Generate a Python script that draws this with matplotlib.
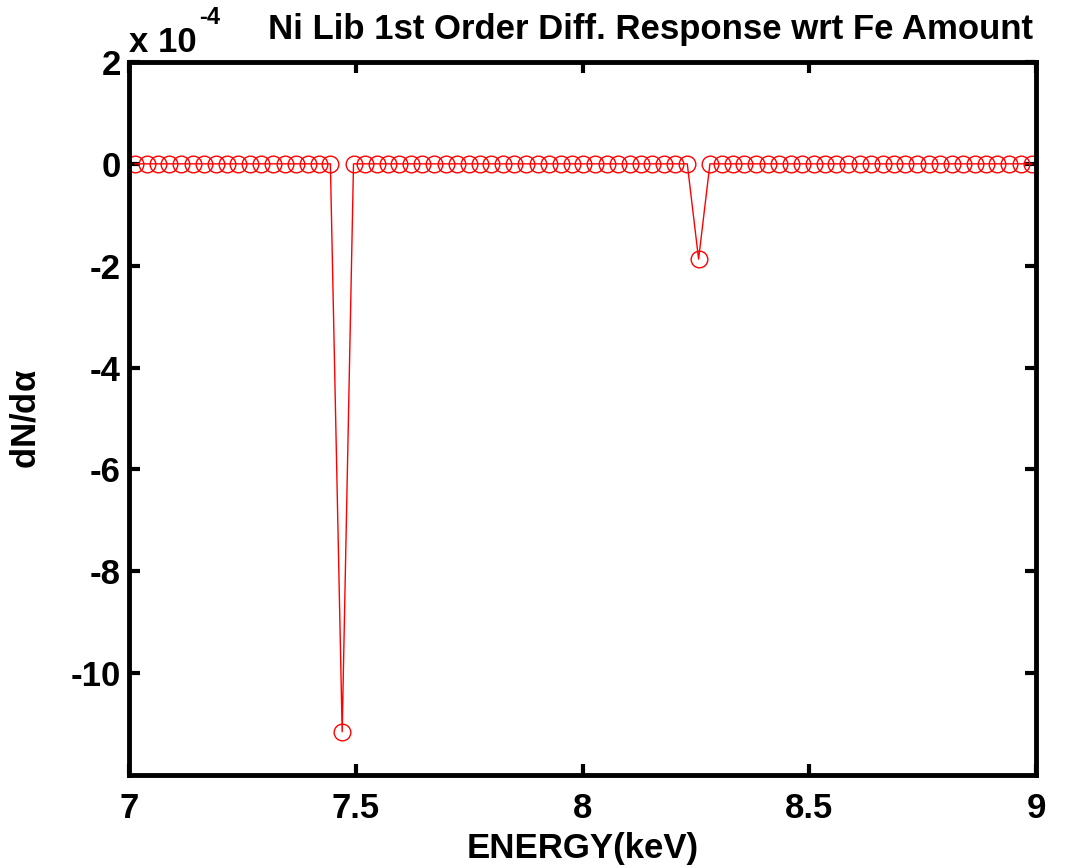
import matplotlib
matplotlib.use("Agg")
import matplotlib.pyplot as plt

plt.rcParams['font.family'] = ['Liberation Sans', 'DejaVu Sans']
plt.rcParams['font.weight'] = 'bold'
plt.rcParams['mathtext.fontset'] = 'custom'
plt.rcParams['mathtext.rm'] = 'Liberation Sans:bold'
plt.rcParams['mathtext.it'] = 'Liberation Sans:bold'

# energy channels (keV)
energy = [7.013, 7.039, 7.064, 7.089, 7.115, 7.140, 7.165, 7.191, 7.216, 7.241,
          7.267, 7.292, 7.318, 7.343, 7.368, 7.394, 7.419, 7.444, 7.470, 7.495,
          7.520, 7.546, 7.571, 7.596, 7.622, 7.647, 7.673, 7.698, 7.723, 7.749,
          7.774, 7.799, 7.825, 7.850, 7.875, 7.901, 7.926, 7.952, 7.977, 8.002,
          8.028, 8.053, 8.078, 8.104, 8.129, 8.154, 8.180, 8.205, 8.231, 8.256,
          8.281, 8.307, 8.332, 8.357, 8.383, 8.408, 8.433, 8.459, 8.484, 8.510,
          8.535, 8.560, 8.586, 8.611, 8.636, 8.662, 8.687, 8.712, 8.738, 8.763,
          8.789, 8.814, 8.839, 8.865, 8.890, 8.915, 8.941, 8.966, 8.991]
# dN/dalpha in units of 1e-4
dNda = [0.0] * 18 + [-11.15] + [0.0] * 30 + [-1.87] + [0.0] * 29

xticks = [7, 7.5, 8, 8.5, 9]
xticklabels = ['7', '7.5', '8', '8.5', '9']
yticks = [2, 0, -2, -4, -6, -8, -10]

fs = 25

fig = plt.figure(figsize=(10.7, 8.68), dpi=100)
ax = fig.add_axes([0.1206, 0.1071, 0.8476, 0.8215])

ax.plot(energy, dNda, color='red', lw=1.0, marker='o', ms=12,
        mfc='none', mec='red', mew=1.0)

ax.set_xlim(7, 9)
ax.set_ylim(-12, 2)
ax.set_xticks(xticks)
ax.set_xticklabels(xticklabels)
ax.set_yticks(yticks)
ax.set_yticklabels([str(t) for t in yticks])

for s in ax.spines.values():
    s.set_linewidth(3.5)
ax.tick_params(axis='both', direction='in', length=8, width=3, top=True, right=True,
               labelsize=fs)
ax.tick_params(axis='x', pad=12)
ax.tick_params(axis='y', pad=6)

ax.set_xlabel('ENERGY(keV)', fontsize=fs, fontweight='bold', labelpad=5)
ax.set_ylabel(r'dN/d$\alpha$', fontsize=fs, fontweight='bold', labelpad=20)

fig.text(0.121, 0.940, 'x 10', fontsize=fs, fontweight='bold', ha='left', va='baseline')
fig.text(0.186, 0.972, '-4', fontsize=17, fontweight='bold', ha='left', va='baseline')
fig.text(0.6075, 0.955, 'Ni Lib 1st Order Diff. Response wrt Fe Amount',
         fontsize=fs, fontweight='bold', ha='center', va='baseline')

fig.savefig('out.png', dpi=100)
